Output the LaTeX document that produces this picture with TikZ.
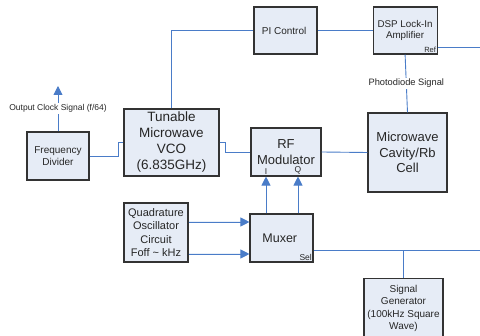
\documentclass[tikz,border=0pt]{standalone}
\usepackage{fontspec}
\setmainfont{Liberation Sans}
\usetikzlibrary{positioning,calc,arrows.meta}
\definecolor{boxfill}{HTML}{E6ECF6}
\definecolor{boxline}{HTML}{333333}
\definecolor{wireblue}{HTML}{4A7CC8}

\begin{document}
\begin{tikzpicture}[x=1pt,y=-1pt,
    block/.style={rectangle,draw=boxline,fill=boxfill,line width=1.1pt,align=center,inner sep=1pt,text=black!85},
    wire/.style={draw=wireblue,line width=0.9pt},
    arrow/.style={wire,-{Triangle[length=9pt,width=9pt]},fill=wireblue},
    tag/.style={inner sep=1.5pt,text=black!85,font=\fontsize{7.5}{8}\selectfont},
    note/.style={fill=white,inner sep=1.5pt,text=black!85,font=\fontsize{8.5}{10}\selectfont}
    ]
    \useasboundingbox (0,0) rectangle (480,336);

    \node[block,minimum width=62pt,minimum height=48pt,font=\fontsize{10}{12}\selectfont] (divider) at (58,156) {
      Frequency\\Divider
    };

    \node[block,minimum width=95pt,minimum height=67pt,font=\fontsize{13.5}{16}\selectfont] (vco) at (171.5,142.5) {
      Tunable\\Microwave\\VCO\\(6.835GHz)
    };

    \node[block,minimum width=63pt,minimum height=47pt,font=\fontsize{10}{12}\selectfont] (pictrl) at (285.5,30.5) {
      PI Control
    };

    \node[block,minimum width=64pt,minimum height=47pt,font=\fontsize{9.8}{11.2}\selectfont,right=55pt of pictrl] (lockin) {
      DSP Lock-In\\Amplifier
    };

    \node[block,minimum width=70pt,minimum height=48pt,font=\fontsize{13}{16}\selectfont] (rfmod) at (286,152) {
      RF\\Modulator
    };

    \node[block,minimum width=79pt,minimum height=79pt,font=\fontsize{13}{15.5}\selectfont] (cavity) at (407.5,152.5) {
      Microwave\\Cavity/Rb\\Cell
    };

    \node[block,minimum width=64pt,minimum height=59pt,font=\fontsize{11}{13.3}\selectfont] (quadosc) at (156,232.5) {
      Quadrature\\Oscillator\\Circuit\\Foff \textasciitilde{} kHz
    };

    \node[block,minimum width=63pt,minimum height=48pt,font=\fontsize{12.5}{14}\selectfont] (muxer) at (281.5,238) {
      Muxer
    };

    \node[block,minimum width=79pt,minimum height=60pt,font=\fontsize{10}{12.4}\selectfont,anchor=north] (siggen) at (403.5,278) {
      Signal\\Generator\\(100kHz Square\\Wave)
    };

    % port labels inside the blocks
    \node[tag,anchor=south east] (ref) at (lockin.south east) {Ref};
    \node[tag,anchor=south east,font=\fontsize{8.5}{9}\selectfont] (sel) at (muxer.south east) {Sel};
    \node[tag,anchor=south,font=\fontsize{8.5}{9}\selectfont] (iport) at (266,176) {I};
    \node[tag,anchor=south,font=\fontsize{8.5}{9}\selectfont] (qport) at (298,176) {Q};

    \coordinate (clkout) at (58,86);
    \coordinate (refout) at (480,47);
    \coordinate (selout) at (480,250);

    \draw[arrow] (divider.north) -- node[note] {Output Clock Signal (f/64)} (clkout);
    \draw[wire] (divider.east) -- ++(29,0) |- (vco.west);
    \draw[wire] (vco.north) |- (pictrl.west);
    \draw[wire] (pictrl)--(lockin);
    \draw[wire] (lockin.east |- refout) -- (refout);
    \draw[wire] (lockin.south) -- node[note,font=\fontsize{9.3}{10}\selectfont] {Photodiode Signal} (cavity.north);
    \draw[wire] (cavity.west) -- (rfmod.east);
    \draw[wire] (vco.east) -- ++(6,0) |- (rfmod.west);
    \draw[arrow] ([yshift=10.5pt]quadosc.east) -- ([yshift=16pt]muxer.west);
    \draw[arrow] ([yshift=-21.5pt]quadosc.east) -- ([yshift=-16pt]muxer.west);
    \draw[arrow] (muxer.north -| iport) -- (iport |- rfmod.south);
    \draw[arrow] (muxer.north -| qport) -- (qport |- rfmod.south);
    \draw[wire] (muxer.east |- selout) -- (selout);
    \draw[wire] (siggen.north) -- (siggen.north |- selout);

  \end{tikzpicture}
\end{document}
